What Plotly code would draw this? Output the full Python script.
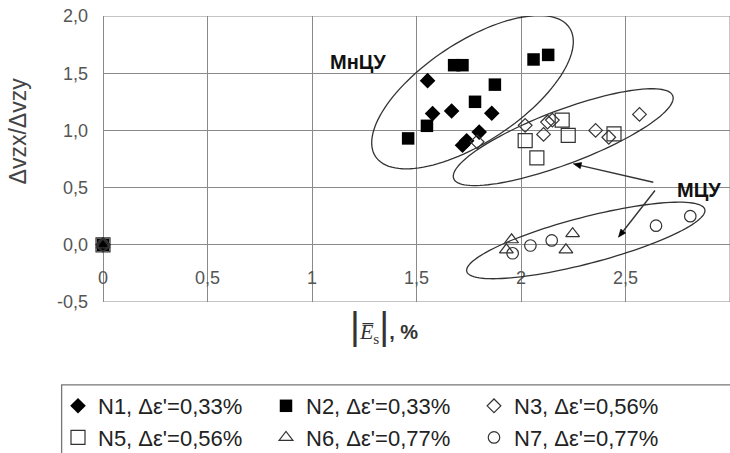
import numpy as np
import plotly.graph_objects as go

# ---------------- data ----------------
n1_x = [0, 1.553, 1.577, 1.668, 1.860, 1.740, 1.800, 1.720]
n1_y = [0, 1.435, 1.147, 1.170, 1.150, 0.910, 0.985, 0.870]

n2_x = [0, 1.460, 1.550, 1.680, 1.720, 1.780, 1.875, 2.060, 2.130]
n2_y = [0, 0.930, 1.040, 1.570, 1.570, 1.250, 1.400, 1.620, 1.660]

n3_x = [0, 1.790, 2.020, 2.108, 2.127, 2.150, 2.357, 2.420, 2.567]
n3_y = [0, 0.900, 1.044, 0.965, 1.073, 1.090, 1.000, 0.940, 1.140]

n5_x = [0, 2.020, 2.076, 2.197, 2.226, 2.445]
n5_y = [0, 0.910, 0.760, 1.090, 0.956, 0.970]

n6_x = [0, 1.955, 1.930, 2.247, 2.215]
n6_y = [0, 0.044, -0.044, 0.097, -0.044]

n7_x = [0, 1.960, 2.045, 2.147, 2.646, 2.810]
n7_y = [0, -0.074, -0.006, 0.038, 0.167, 0.250]

series_names = ["N1, Δε'=0,33%", "N2, Δε'=0,33%", "N3, Δε'=0,56%",
                "N5, Δε'=0,56%", "N6, Δε'=0,77%", "N7, Δε'=0,77%"]

x_ticks = [0, 0.5, 1, 1.5, 2, 2.5, 3]
x_ticktext = ["0", "0,5", "1", "1,5", "2", "2,5", "3"]
y_ticks = [-0.5, 0, 0.5, 1, 1.5, 2]
y_ticktext = ["-0,5", "0,0", "0,5", "1,0", "1,5", "2,0"]

# ---------------- figure ----------------
FONT = "Liberation Sans, Arial, sans-serif"
DARK = "#333333"
fig = go.Figure()

styles = [
    dict(symbol="diamond", size=12, color="black", line=dict(width=0)),
    dict(symbol="square", size=12.5, color="black", line=dict(width=0)),
    dict(symbol="diamond-open", size=10.5, color=DARK, line=dict(width=1.2, color=DARK)),
    dict(symbol="square-open", size=14, color=DARK, line=dict(width=1.2, color=DARK)),
    dict(symbol="triangle-up-open", size=12, color=DARK, line=dict(width=1.2, color=DARK)),
    dict(symbol="circle-open", size=11.5, color=DARK, line=dict(width=1.2, color=DARK)),
]
xs = [n1_x, n2_x, n3_x, n5_x, n6_x, n7_x]
ys = [n1_y, n2_y, n3_y, n5_y, n6_y, n7_y]
for name, x, y, st in zip(series_names, xs, ys, styles):
    fig.add_trace(go.Scatter(x=x, y=y, mode="markers", name=name, marker=st,
                             cliponaxis=False))

# plot scale (pixels per data unit) used for drawing rotated ellipses / arrowheads
PX_X = 209.0
PX_Y = 114.4


def ellipse_path(cx, cy, a, b, deg):
    th = np.deg2rad(deg)
    t = np.linspace(0, 2 * np.pi, 121)
    ex = cx + (a * np.cos(th) * np.cos(t) - b * np.sin(th) * np.sin(t)) / PX_X
    ey = cy + (a * np.sin(th) * np.cos(t) + b * np.cos(th) * np.sin(t)) / PX_Y
    return "M " + " L ".join(f"{u:.4f},{v:.4f}" for u, v in zip(ex, ey)) + " Z"


def arrow_shapes(x0, y0, x1, y1, length=8, half=3.2):
    # line from tail (x0,y0) to head (x1,y1) plus a filled triangular head
    dx, dy = (x1 - x0) * PX_X, (y1 - y0) * PX_Y
    n = np.hypot(dx, dy)
    ux, uy = dx / n, dy / n
    bx, by = x1 - ux * length / PX_X, y1 - uy * length / PX_Y
    px, py = -uy * half / PX_X, ux * half / PX_Y
    head = (f"M {x1:.4f},{y1:.4f} L {bx + px:.4f},{by + py:.4f} "
            f"L {bx - px:.4f},{by - py:.4f} Z")
    return [dict(type="line", xref="x", yref="y", x0=x0, y0=y0, x1=bx, y1=by,
                 line=dict(color=DARK, width=1.4)),
            dict(type="path", xref="x", yref="y", path=head,
                 fillcolor="black", line=dict(color="black", width=0.5))]


shapes = []
# plot frame
shapes.append(dict(type="rect", xref="x", yref="y", x0=0, x1=3, y0=-0.5, y1=2,
                   line=dict(color="#8a8a8a", width=1), layer="below"))
for (cx, cy, a, b, d) in [(1.768, 1.334, 116.4, 49.9, 33.6),
                          (2.202, 0.941, 117.1, 26.9, 20.7),
                          (2.310, 0.038, 123.0, 23.2, 14.6)]:
    shapes.append(dict(type="path", xref="x", yref="y", path=ellipse_path(cx, cy, a, b, d),
                       line=dict(color=DARK, width=1.3)))
shapes += arrow_shapes(2.633, 0.547, 2.250, 0.708)
shapes += arrow_shapes(2.641, 0.475, 2.466, 0.066)
# legend box
shapes.append(dict(type="rect", xref="paper", yref="paper", x0=-0.066, x1=1.02,
                   y0=-0.58, y1=-0.29, line=dict(color="#777777", width=1.3)))

annotations = [
    dict(x=1.22, y=1.60, xref="x", yref="y", text="<b>МнЦУ</b>", showarrow=False,
         font=dict(family=FONT, size=20, color="#111")),
    dict(x=2.852, y=0.483, xref="x", yref="y", text="<b>МЦУ</b>", showarrow=False,
         font=dict(family=FONT, size=20, color="#111")),
    dict(x=-0.1356, y=0.60, xref="paper", yref="paper", xanchor="center", yanchor="middle",
         text="Δvzx/Δvzy", textangle=-90,
         showarrow=False, font=dict(family=FONT, size=23, color="#444")),
    dict(x=0.448, y=-0.084, xref="paper", yref="paper", xanchor="center", yanchor="middle",
         text="<span style='font-size:38px'>|</span><span style='font-family:Liberation Serif;font-size:22px'><i>E̅</i><sub>s</sub></span><span style='font-size:38px'>|</span><b>, %</b>",
         showarrow=False, font=dict(family=FONT, size=20, color="#333")),
]

fig.update_layout(
    width=730, height=453,
    margin=dict(l=103, r=0, t=16, b=151),
    paper_bgcolor="white", plot_bgcolor="white",
    font=dict(family=FONT, size=18, color="#444"),
    showlegend=True,
    legend=dict(orientation="h", xref="container", yref="container",
                x=58 / 730, xanchor="left", y=1 - 385 / 453, yanchor="top",
                entrywidth=163, entrywidthmode="pixels", itemwidth=30,
                font=dict(family=FONT, size=22, color="#222"),
                bgcolor="rgba(0,0,0,0)", tracegroupgap=0),
    shapes=shapes,
    annotations=annotations,
)
fig.update_xaxes(range=[0, 3], tickvals=x_ticks, ticktext=x_ticktext,
                 anchor="free", position=0.2, ticks="", ticklabelstandoff=20,
                 showgrid=True, gridcolor="#8a8a8a", gridwidth=1,
                 zeroline=True, zerolinecolor="#8a8a8a", zerolinewidth=1.3,
                 showline=False, tickfont=dict(family=FONT, size=18, color="#555"))
fig.update_yaxes(range=[-0.5, 2], tickvals=y_ticks, ticktext=y_ticktext,
                 ticks="", ticklabelstandoff=14,
                 showgrid=True, gridcolor="#8a8a8a", gridwidth=1,
                 zeroline=True, zerolinecolor="#8a8a8a", zerolinewidth=1.3,
                 showline=False, tickfont=dict(family=FONT, size=18, color="#555"))

# remove the browser's default page margin so the figure sits at the window origin
fig.write_html("out.html", config={"displayModeBar": False},
               post_script="document.body.style.margin='0';document.body.style.overflow='hidden';")
